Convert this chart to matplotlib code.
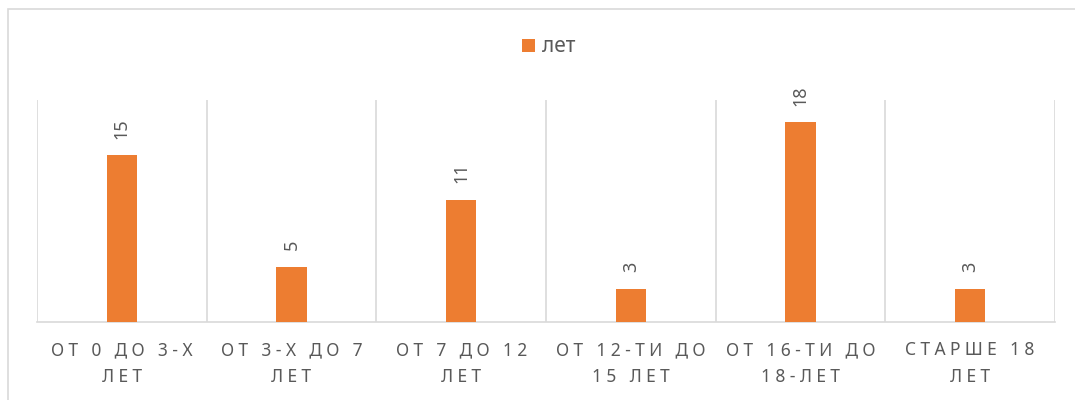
import matplotlib.pyplot as plt
from matplotlib.patches import Rectangle
import numpy as np

categories = ['ОТ 0 ДО 3-Х\nЛЕТ', 'ОТ 3-Х ДО 7\nЛЕТ', 'ОТ 7 ДО 12\nЛЕТ',
              'ОТ 12-ТИ ДО\n15 ЛЕТ', 'ОТ 16-ТИ ДО\n18-ЛЕТ', 'СТАРШЕ 18\nЛЕТ']
values = [15, 5, 11, 3, 18, 3]
series_name = 'лет'

orange = '#ED7D31'
grid = '#D9D9D9'
txt = '#595959'

plt.rcParams['font.family'] = ['Noto Sans', 'DejaVu Sans']


def spaced(s):
    # letter spacing like the office chart
    return '\n'.join('\u2005'.join(line) for line in s.split('\n'))


fig = plt.figure(figsize=(10.75, 4), dpi=100)
ax = fig.add_axes([37 / 1075, 1 - 322 / 400, (1055 - 37) / 1075, 222 / 400])

x = np.arange(len(values))
bars = ax.bar(x, values, width=0.18, color=orange, zorder=3, label=series_name)
ax.set_xlim(-0.5, len(values) - 0.5)
ax.set_ylim(0, 20)

for b, v in zip(bars, values):
    ax.annotate(str(v), (b.get_x() + b.get_width() / 2, v), xytext=(0, 12),
                textcoords='offset points', rotation=90, ha='center', va='bottom',
                color=txt, fontsize=13)

for xb in np.arange(-0.5, len(values), 1.0):
    ax.axvline(xb, color=grid, lw=1.2, zorder=1)

for s in ['top', 'right', 'left']:
    ax.spines[s].set_visible(False)
ax.spines['bottom'].set_color(grid)
ax.spines['bottom'].set_linewidth(1.2)
ax.set_yticks([])
ax.set_xticks(x)
ax.set_xticklabels([spaced(c) for c in categories], color=txt, fontsize=12.5,
                   linespacing=1.6)
ax.tick_params(axis='x', length=0, pad=14)

ax.legend(loc='center', bbox_to_anchor=(549 / 1075, 1 - 47 / 400),
          bbox_transform=fig.transFigure, frameon=False, fontsize=15,
          handlelength=0.6, handleheight=0.6, handletextpad=0.35,
          labelcolor=txt)

fig.patches.append(Rectangle((8 / 1075, -0.1), 1.2, 1.1 - 9 / 400,
                             transform=fig.transFigure, fill=False,
                             edgecolor=grid, lw=1.2))

fig.savefig('out.png', dpi=100)
